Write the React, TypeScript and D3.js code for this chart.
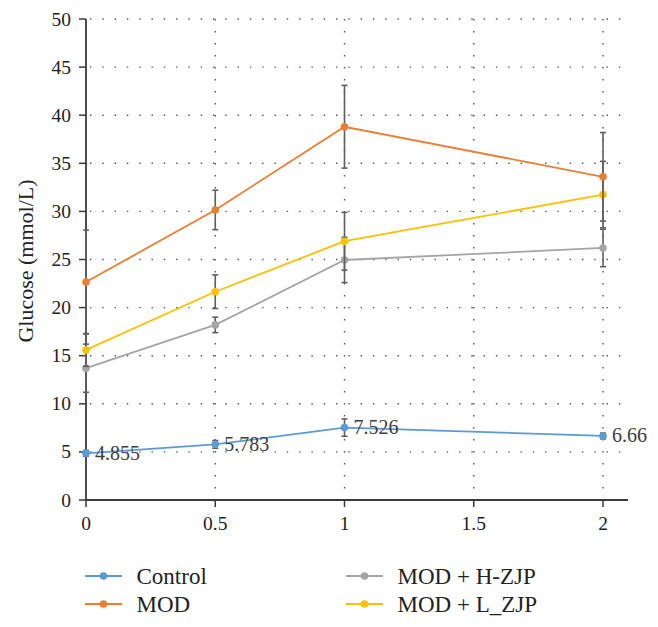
import React, { useEffect, useRef } from 'react';
import * as d3 from 'd3';

const times = [0, 0.5, 1, 2];
const seriesNames = ['Control', 'MOD', 'MOD + H-ZJP', 'MOD + L_ZJP'];
const controlValues = [4.855, 5.783, 7.526, 6.66];
const controlErrors = [0.3, 0.4, 0.9, 0.3];
const modValues = [22.66, 30.15, 38.8, 33.6];
const modErrors = [5.4, 2.05, 4.3, 4.6];
const hzjpValues = [13.7, 18.2, 24.95, 26.2];
const hzjpErrors = [2.5, 0.8, 2.35, 1.95];
const lzjpValues = [15.6, 21.65, 26.9, 31.75];
const lzjpErrors = [1.7, 1.75, 3.0, 3.45];
const seriesColors = ['#5b9bd5', '#ed7d31', '#a5a5a5', '#ffc000'];
const controlLabels = ['4.855', '5.783', '7.526', '6.66'];
const yTicks = [0, 5, 10, 15, 20, 25, 30, 35, 40, 45, 50];
const xTicks = [0, 0.5, 1, 1.5, 2];

const W = 658, H = 627;
const font = 'Liberation Serif';

export default function App() {
  const ref = useRef<SVGSVGElement>(null);

  useEffect(() => {
    document.body.style.margin = '0';
    const svg = d3.select(ref.current);
    svg.selectAll('*').remove();

    const x = d3.scaleLinear().domain([0, 2]).range([86, 603]);
    const y = d3.scaleLinear().domain([0, 50]).range([500, 19]);
    const xEnd = 628;

    // dotted grid
    const grid = svg.append('g');
    grid.selectAll('.hg').data(yTicks.filter(d => d > 0)).enter().append('line')
      .attr('x1', x(0) + 4).attr('x2', xEnd)
      .attr('y1', d => y(d)).attr('y2', d => y(d))
      .attr('stroke', '#555').attr('stroke-width', 1.4)
      .attr('stroke-dasharray', '1.4,10.9');
    grid.selectAll('.vg').data(xTicks.filter(d => d > 0)).enter().append('line')
      .attr('x1', d => x(d)).attr('x2', d => x(d))
      .attr('y1', y(50)).attr('y2', y(0))
      .attr('stroke', '#555').attr('stroke-width', 1.4)
      .attr('stroke-dasharray', '1.4,10.6');

    // axes
    const axisColor = '#3a3a3a';
    svg.append('line').attr('x1', x(0)).attr('x2', x(0)).attr('y1', y(50)).attr('y2', y(0))
      .attr('stroke', axisColor).attr('stroke-width', 1.8);
    svg.append('line').attr('x1', x(0)).attr('x2', xEnd).attr('y1', y(0)).attr('y2', y(0))
      .attr('stroke', axisColor).attr('stroke-width', 1.8);
    svg.selectAll('.yt').data(yTicks).enter().append('line')
      .attr('x1', x(0) - 7).attr('x2', x(0)).attr('y1', d => y(d)).attr('y2', d => y(d))
      .attr('stroke', axisColor).attr('stroke-width', 1.5);
    svg.selectAll('.xt').data(xTicks).enter().append('line')
      .attr('x1', d => x(d)).attr('x2', d => x(d)).attr('y1', y(0)).attr('y2', y(0) + 7)
      .attr('stroke', axisColor).attr('stroke-width', 1.5);
    svg.selectAll('.yl').data(yTicks).enter().append('text')
      .attr('x', 71).attr('y', d => y(d) + 6.5).attr('text-anchor', 'end')
      .attr('font-family', font).attr('font-size', 19.5).attr('fill', '#222')
      .text(d => String(d));
    svg.selectAll('.xl').data(xTicks).enter().append('text')
      .attr('x', d => x(d)).attr('y', 530).attr('text-anchor', 'middle')
      .attr('font-family', font).attr('font-size', 19.5).attr('fill', '#222')
      .text(d => String(d));
    svg.append('text')
      .attr('transform', `translate(33,261) rotate(-90)`)
      .attr('text-anchor', 'middle')
      .attr('font-family', font).attr('font-size', 22).attr('fill', '#222')
      .text('Glucose (mmol/L)');

    const allValues = [controlValues, modValues, hzjpValues, lzjpValues];
    const allErrors = [controlErrors, modErrors, hzjpErrors, lzjpErrors];
    const line = d3.line<number>().x((_, i) => x(times[i])).y(d => y(d));

    // draw back to front: H, L, MOD, Control
    [2, 3, 1, 0].forEach(s => {
      const vals = allValues[s];
      const errs = allErrors[s];
      const g = svg.append('g');
      g.append('path').attr('d', line(vals)).attr('fill', 'none')
        .attr('stroke', seriesColors[s]).attr('stroke-width', 1.8);
      vals.forEach((v, i) => {
        const cx = x(times[i]);
        const e = errs[i];
        g.append('line').attr('x1', cx).attr('x2', cx).attr('y1', y(v + e)).attr('y2', y(v - e))
          .attr('stroke', '#5f5f5f').attr('stroke-width', 1.6);
        [v + e, v - e].forEach(c => {
          g.append('line').attr('x1', cx - 3).attr('x2', cx + 3).attr('y1', y(c)).attr('y2', y(c))
            .attr('stroke', '#5f5f5f').attr('stroke-width', 1.6);
        });
        g.append('circle').attr('cx', cx).attr('cy', y(v)).attr('r', 3.8)
          .attr('fill', seriesColors[s]);
      });
    });

    // control data labels
    svg.selectAll('.cl').data(controlValues).enter().append('text')
      .attr('x', (_, i) => x(times[i]) + 9).attr('y', d => y(d) + 6.5)
      .attr('font-family', font).attr('font-size', 20).attr('fill', '#404040')
      .text((_, i) => controlLabels[i]);

    // legend
    const legendPos = [[85, 576], [85, 604], [346, 576], [346, 604]];
    seriesNames.forEach((name, i) => {
      const [lx, ly] = legendPos[i];
      svg.append('line').attr('x1', lx).attr('x2', lx + 37).attr('y1', ly).attr('y2', ly)
        .attr('stroke', seriesColors[i]).attr('stroke-width', 1.8);
      svg.append('circle').attr('cx', lx + 18.5).attr('cy', ly).attr('r', 3.8).attr('fill', seriesColors[i]);
      svg.append('text').attr('x', lx + 51.5).attr('y', ly + 7.5)
        .attr('font-family', font).attr('font-size', 23).attr('fill', '#222')
        .text(name);
    });
  }, []);

  return <svg ref={ref} width={W} height={H} style={{ display: 'block', background: '#fff' }} />;
}
